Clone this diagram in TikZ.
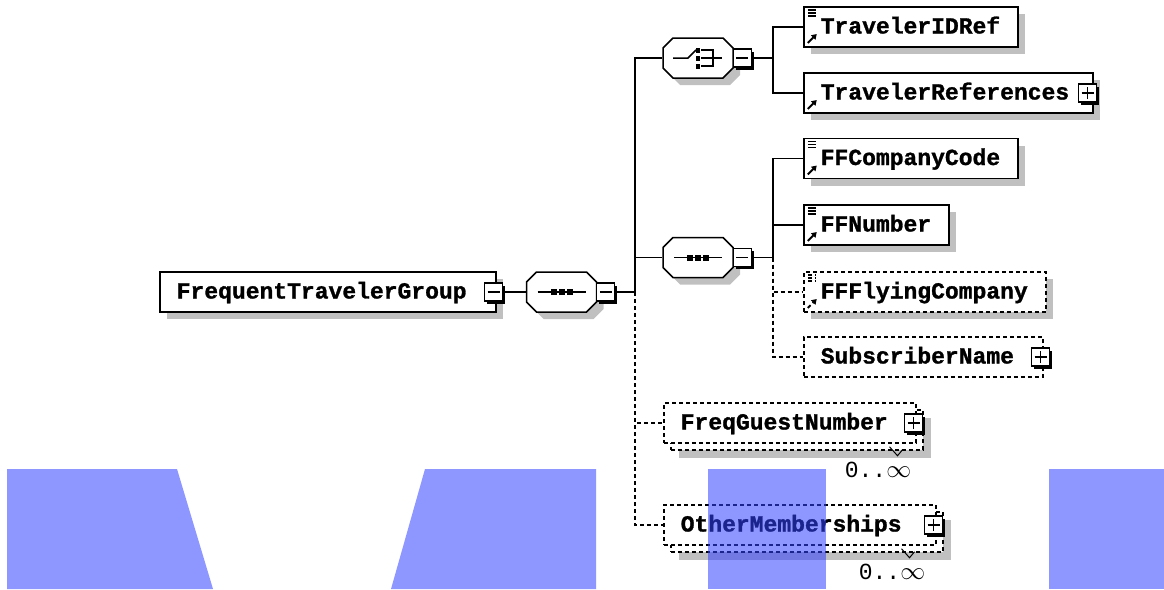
\documentclass[tikz,border=0pt]{standalone}
\usepackage{fontspec}
\newfontfamily\xsdfont{Liberation Mono}[BoldFeatures={FakeBold=1.2}]
\usepackage{tikz}
\usetikzlibrary{shapes.misc,shadows,arrows.meta}
\definecolor{shadowgray}{RGB}{192,192,192}
\definecolor{markblue}{RGB}{50,64,255}
\tikzset{
    box/.style={draw, line width=1.5pt, fill=white, anchor=west, minimum height=40pt,
        inner xsep=17pt, inner ysep=0pt, text height=13pt, text depth=0pt, align=left,
        font={\xsdfont\fontsize{23pt}{23pt}\selectfont\bfseries}},
    gshadow/.style={drop shadow={shadow xshift=#1, shadow yshift=-#1, fill=shadowgray, opacity=1}},
    elem/.style={box, gshadow=7pt},
    optelem/.style={elem, dash pattern=on 4pt off 3pt},
    multielem/.style={box, dash pattern=on 4pt off 3pt, gshadow=15pt,
        copy shadow={shadow xshift=7pt, shadow yshift=-7pt, draw=black, fill=white,
            line width=1.5pt, dash pattern=on 4pt off 3pt}},
    comp/.style={chamfered rectangle, chamfered rectangle xsep=5pt, chamfered rectangle ysep=5pt,
        draw, line width=1.5pt, fill=white, inner xsep=30pt, inner ysep=15pt, gshadow=7pt},
    seqbox/.style={comp, path picture={
        \draw[black, line width=1.5pt] ([xshift=-24pt]path picture bounding box.center) -- ([xshift=24pt]path picture bounding box.center);
        \foreach \dx in {-8,0,8}
            \fill[black] ([xshift=\dx pt]path picture bounding box.center) ++(-3,-3) rectangle ++(6,6);}},
    choicebox/.style={comp, path picture={
        \draw[black, line width=1.5pt] ([xshift=-25pt]path picture bounding box.center) -- ++(15,0) -- ++(8,8);
        \foreach \dy in {-8,0,8}
            \fill[black] ([yshift=\dy pt]path picture bounding box.center) ++(-2,-2.5) rectangle ++(4,5);
        \draw[black, line width=1.5pt] ([shift={(3,8)}]path picture bounding box.center) -- ++(12,0) -- ++(0,-16) -- ++(-12,0);
        \draw[black, line width=1.5pt] ([shift={(3,0)}]path picture bounding box.center) -- ++(21,0);}},
    refsimple/.style={path picture={
        \foreach \dy in {3,6,9}
            \draw[black, line width=1.2pt] ([shift={(4,-\dy)}]path picture bounding box.north west) -- ++(8,0);
        \draw[black, line width=1.8pt, -{Triangle[length=5pt, width=6pt]}] ([shift={(4,4)}]path picture bounding box.south west) -- ++(9,9);}},
    refcomplex/.style={path picture={
        \draw[black, line width=1.8pt, -{Triangle[length=5pt, width=6pt]}] ([shift={(4,4)}]path picture bounding box.south west) -- ++(9,9);}},
    xbox/.style={draw, fill=white, line width=1.2pt, minimum size=18pt, inner sep=0pt,
        drop shadow={shadow xshift=2.5pt, shadow yshift=-2.5pt, fill=black, opacity=1}},
    minusbox/.style={xbox, path picture={
        \draw[black, line width=1.2pt] ([xshift=3pt]path picture bounding box.west) -- ([xshift=-3pt]path picture bounding box.east);}},
    plusbox/.style={xbox, path picture={
        \draw[black, line width=1.2pt] ([xshift=3pt]path picture bounding box.west) -- ([xshift=-3pt]path picture bounding box.east);
        \draw[black, line width=1.2pt] ([yshift=3pt]path picture bounding box.south) -- ([yshift=-3pt]path picture bounding box.north);}},
    card/.style={inner sep=0pt, font={\xsdfont\fontsize{23pt}{23pt}\selectfont}},
    conn/.style={line width=1.5pt},
    optconn/.style={conn, dash pattern=on 4pt off 3pt}
}

\begin{document}
\begin{tikzpicture}[x=1pt, y=1pt]
    \useasboundingbox (0,0) rectangle (1164,-589);

    % Nodes
    \node[elem, text width=302pt] (ftg) at (159,-292) {FrequentTravelerGroup};
    \node[minusbox] (ftgx) at ([xshift=-3pt]ftg.east) {};
    \node[seqbox] (seqa) at (561.5,-292) {};
    \node[minusbox, anchor=west] (seqax) at ([xshift=-1pt]seqa.east) {};
    \coordinate (busa) at (635,-292);

    % choice branch
    \node[choicebox] (cho) at (698,-58) {};
    \node[minusbox, anchor=west] (chox) at ([xshift=-1pt]cho.east) {};
    \coordinate (busb) at (773,-58);
    \node[elem, refsimple, text width=180pt] (idref) at (803,-27) {TravelerIDRef};
    \node[elem, refcomplex, text width=255pt] (trefs) at (803,-93) {TravelerReferences};
    \node[plusbox] (trefsx) at ([xshift=-6pt]trefs.east) {};

    % sequence branch
    \node[seqbox] (seqb) at (698,-257.5) {};
    \node[minusbox, anchor=west] (seqbx) at ([xshift=-1pt]seqb.east) {};
    \coordinate (busc) at (773,-257.5);
    \node[elem, refsimple, text width=180pt] (ffcc) at (803,-158.5) {FFCompanyCode};
    \node[elem, refsimple, text width=111pt] (ffnum) at (803,-225) {FFNumber};
    \node[optelem, refsimple, text width=208pt] (ffly) at (803,-292) {FFFlyingCompany};
    \node[box, dash pattern=on 4pt off 3pt, text width=205pt] (subn) at (803,-357) {SubscriberName};
    \node[plusbox] (subnx) at ([xshift=-3pt]subn.east) {};

    % repeated elements
    \node[multielem, text width=218pt] (fgn) at (663,-423) {FreqGuestNumber};
    \node[plusbox] (fgnx) at ([xshift=-3pt]fgn.east) {};
    \node[card] (fgncard) at (878,-470) {0..$\infty$};
    \node[multielem, text width=238pt] (oth) at (663,-525) {OtherMemberships};
    \node[plusbox] (othx) at ([xshift=-3pt]oth.east) {};
    \node[card] (othcard) at (892,-572) {0..$\infty$};

    % edges
    \draw[conn] (ftgx.east) -- (seqa.west);
    \draw[conn] (seqax.east) -- (busa) |- (cho.west);
    \draw[conn] (busa) |- (seqb.west);
    \draw[optconn] (busa) |- (fgn.west);
    \draw[optconn] (busa) |- (oth.west);
    \draw[conn] (chox.east) -- (busb) |- (idref.west);
    \draw[conn] (busb) |- (trefs.west);
    \draw[conn] (seqbx.east) -- (busc) |- (ffcc.west);
    \draw[conn] (busc) |- (ffnum.west);
    \draw[optconn] (busc) |- (ffly.west);
    \draw[optconn] (busc) |- (subn.west);
    \draw[line width=1pt] ([shift={(-27,-3)}]fgn.south east) -- ++(8,-9) -- ++(5,6);
    \draw[line width=1pt] ([shift={(-35,-3)}]oth.south east) -- ++(8,-9) -- ++(5,6);

    % overlay
    \fill[markblue, fill opacity=0.55] (7,-469) -- (177,-469) -- (213,-589) -- (7,-589) -- cycle;
    \fill[markblue, fill opacity=0.55] (425,-469) -- (596,-469) -- (596,-589) -- (391,-589) -- cycle;
    \fill[markblue, fill opacity=0.55] (708,-469) rectangle (826,-589);
    \fill[markblue, fill opacity=0.55] (1049,-469) rectangle (1164,-589);
\end{tikzpicture}
\end{document}
